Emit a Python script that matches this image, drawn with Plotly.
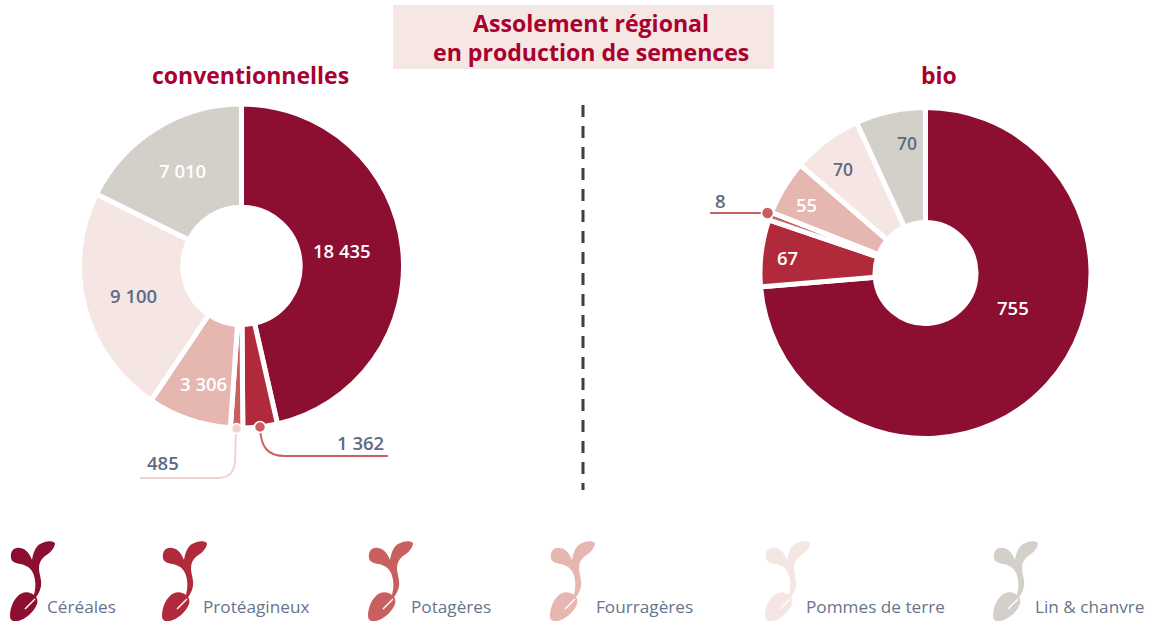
import plotly.graph_objects as go

CATEGORIES = ["Céréales", "Protéagineux", "Potagères", "Fourragères", "Pommes de terre", "Lin & chanvre"]
COLORS = ["#8c0f31", "#b02a3c", "#c8605f", "#e6b7b1", "#f5e6e4", "#d2d0c9"]
CONV_VALUES = [18435, 1362, 485, 3306, 9100, 7010]
BIO_VALUES = [755, 67, 8, 55, 70, 70]
CONV_LABELS = ["18 435", "1 362", "485", "3 306", "9 100", "7 010"]
BIO_LABELS = ["755", "67", "8", "55", "70", "70"]

W, H = 1150, 621
SLATE = "#5b6b84"
CRIMSON = "#a8002f"
FONT = "Open Sans"

SPROUT = ("M11 24 C10 17 14 13 20 14 C27 15 30 21 32 26 C33 20 35 13 40 10 C45 7 52 6 55 9 "
          "C55 14 50 19 45 22 C41 25 39 29 39 34 C39 40 42 46 41 52 C40 58 37 62 34 66 L33 64 "
          "C35 58 36 52 35 46 C34 38 30 33 24 31 C19 29 12 30 11 24 Z")
SEED = ("M35 62 C30 57 22 57 17 63 C12 68 10 76 10 82 C10 87 14 88 18 87 "
        "C26 85 34 78 37 70 C38 66 37 64 35 62 Z")
SLIT = "M25 75 L35 65"


def pxdomain(cx, cy, r):
    return dict(x=[(cx - r) / W, (cx + r) / W], y=[1 - (cy + r) / H, 1 - (cy - r) / H])


def place(path, dx, dy):
    res, isx = [], True
    for t in path.split():
        head = ""
        if t[0].isalpha():
            head, t = t[0], t[1:]
        if not t:
            res.append(head)
            continue
        v = float(t) + (dx if isx else dy)
        isx = not isx
        res.append(f"{head}{v:g}")
    return " ".join(res)


fig = go.Figure()


def pie(values, cx, cy, r, hole, name):
    fig.add_trace(go.Pie(
        values=values, labels=CATEGORIES, name=name, sort=False, direction="clockwise", rotation=0,
        hole=hole, domain=pxdomain(cx, cy, r), textinfo="none", hoverinfo="label+value",
        marker=dict(colors=COLORS, line=dict(color="white", width=5)), showlegend=False))


pie(CONV_VALUES, 241.5, 266, 162, 0.362, "conventionnelles")
pie(BIO_VALUES, 925.5, 273, 165.5, 0.305, "bio")

fig.add_trace(go.Scatter(x=[], y=[], showlegend=False))

shapes = [
    dict(type="rect", xref="x", yref="y", x0=393, x1=774, y0=5, y1=69, fillcolor="#f6e6e4", line_width=0, layer="below"),
    dict(type="line", xref="x", yref="y", x0=583, x1=583, y0=105, y1=490, line=dict(color="#3f3f3f", width=3, dash="12px,9px")),
    dict(type="path", xref="x", yref="y", path="M260 428 C261 448 268 456 285 456 L388 456", line=dict(color=COLORS[2], width=2)),
    dict(type="circle", xref="x", yref="y", x0=254.5, x1=265.5, y0=421.5, y1=432.5, fillcolor=COLORS[2], line=dict(color="white", width=1.5)),
    dict(type="path", xref="x", yref="y", path="M236 429 L235 462 C234 473 228 478 218 478 L140 478", line=dict(color="#f0d3cf", width=2)),
    dict(type="circle", xref="x", yref="y", x0=231.5, x1=241.5, y0=423.5, y1=433.5, fillcolor="#f0d3cf", line=dict(color="white", width=1.5)),
    dict(type="line", xref="x", yref="y", x0=710, x1=768, y0=213, y1=213, line=dict(color=COLORS[2], width=2)),
    dict(type="circle", xref="x", yref="y", x0=761.5, x1=773.5, y0=207, y1=219, fillcolor=COLORS[2], line=dict(color="white", width=1.5)),
]

ICON_X = [0, 152, 358, 540, 755, 983]
TEXT_X = [45, 201, 409, 594, 804, 1033]
for c, ix in zip(COLORS, ICON_X):
    shapes.append(dict(type="path", xref="x", yref="y", path=place(SPROUT, ix, 534), fillcolor=c, line_width=0))
    shapes.append(dict(type="path", xref="x", yref="y", path=place(SEED, ix, 534), fillcolor=c, line_width=0))
    shapes.append(dict(type="path", xref="x", yref="y", path=place(SLIT, ix, 534), line=dict(color="white", width=1.5)))

ann = []


def text(x, y, s, size, color, weight=400, anchor="center"):
    ann.append(dict(xref="x", yref="y", x=x, y=y, text=s, showarrow=False,
                    xanchor=anchor, yanchor="middle", font=dict(family=FONT, size=size, color=color, weight=weight)))


text(590.5, 23, "Assolement régional", 23.1, CRIMSON, 700)
text(590.5, 52, "en production de semences", 23.1, CRIMSON, 700)
text(250, 75, "conventionnelles", 23, CRIMSON, 700)
text(939, 75, "bio", 23, CRIMSON, 700)

for (x, y, i, col) in [(342, 250.5, 0, "white"), (360, 442, 1, SLATE), (163, 462, 2, SLATE),
                       (203, 383.5, 3, "white"), (133, 295, 4, SLATE), (182, 170, 5, "white")]:
    text(x, y, CONV_LABELS[i], 18.5, col, 600)
for (x, y, i, col) in [(1013, 307, 0, "white"), (787, 257, 1, "white"), (720, 200, 2, SLATE),
                       (806, 204, 3, "white"), (843, 169, 4, SLATE), (907, 143, 5, SLATE)]:
    text(x, y, BIO_LABELS[i], 18.5 if i < 4 else 17.5, col, 600)
for s, x in zip(CATEGORIES, TEXT_X):
    text(x, 606.5, s, 17.2, "#66758c", 400, "left")

fig.update_layout(
    width=W, height=H, margin=dict(l=0, r=0, t=0, b=0), paper_bgcolor="white", plot_bgcolor="rgba(0,0,0,0)",
    xaxis=dict(range=[0, W], visible=False, domain=[0, 1], fixedrange=True),
    yaxis=dict(range=[H, 0], visible=False, domain=[0, 1], fixedrange=True),
    shapes=shapes, annotations=ann, showlegend=False, font=dict(family=FONT))
fig.write_html("out.html", config=dict(displayModeBar=False),
               post_script="document.body.style.margin='0';document.documentElement.style.overflow='hidden';")
